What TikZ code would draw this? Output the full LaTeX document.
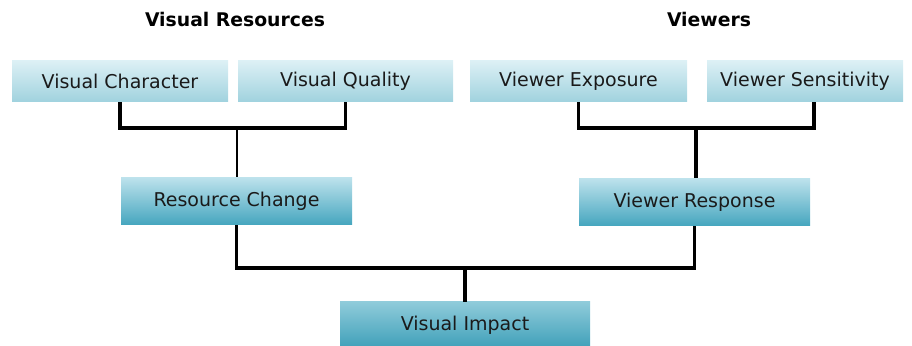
\documentclass[tikz,border=0pt]{standalone}
\usepackage{fontspec}
\setmainfont{DejaVu Sans}
\usepackage{xcolor}
\usetikzlibrary{calc, positioning}

\definecolor{paletop}{HTML}{DCF0F5}
\definecolor{palebot}{HTML}{A0D2DE}
\definecolor{midtop}{HTML}{BDE2EC}
\definecolor{midbot}{HTML}{46A6BF}
\definecolor{lowtop}{HTML}{8FCBDA}
\definecolor{lowbot}{HTML}{3FA0B9}
\definecolor{boxtext}{HTML}{1A1A1A}

\tikzstyle{heading} = [font=\fontsize{9.4}{11}\selectfont\bfseries, text=black, inner sep=0pt]
\tikzstyle{factor} = [rectangle, inner sep=0pt, text=boxtext,
  font=\fontsize{9.5}{11}\selectfont, minimum height=20.5pt]
\tikzstyle{toptier} = [factor, top color=paletop, bottom color=palebot]
\tikzstyle{midtier} = [factor, top color=midtop, bottom color=midbot, minimum height=23.5pt]
\tikzstyle{lowtier} = [factor, top color=lowtop, bottom color=lowbot, minimum height=23pt]
\tikzstyle{bar} = [draw=black, line width=1.6pt]

\begin{document}
\begin{tikzpicture}[x=0.5pt, y=-0.5pt]
    \useasboundingbox (0,0) rectangle (912,346);

    % group titles
    \node[heading] (hres) at (235,19) {Visual Resources};
    \node[heading] (hview) at (709,19) {Viewers};

    % first row
    \node[toptier, minimum width=108pt] (vchar) at (120,81.5) {Visual Character};
    \node[toptier, minimum width=107.5pt] (vqual) at (345.5,81.5) {Visual Quality};
    \node[toptier, minimum width=108.5pt] (vexpo) at (578.5,81.5) {Viewer Exposure};
    \node[toptier, minimum width=98pt] (vsens) at (805,81.5) {Viewer Sensitivity};

    % second row
    \node[midtier, minimum width=115.5pt] (reschange) at (236.5,201) {Resource Change};
    \node[midtier, minimum width=115.5pt] (viewresp) at (694.5,202) {Viewer Response};

    % result
    \node[lowtier, minimum width=125pt] (vimpact) at (465,325) {Visual Impact};

    % joints of the brackets
    \coordinate (jres) at (237,128);
    \coordinate (jview) at (696,128);
    \coordinate (jimp) at (465,268);

    \draw[bar] (vchar.south) |- (jres) -| (vqual.south);
    \draw[bar, line width=1.1pt] (jres) -- (jres |- reschange.north);
    \draw[bar] (vexpo.south) |- (jview) -| ($(vsens.south)+(9,0)$);
    \draw[bar] (jview) -- (jview |- viewresp.north);
    \draw[bar] (reschange.south) |- (jimp) -| (viewresp.south);
    \draw[bar] (jimp) -- (vimpact.north);
\end{tikzpicture}
\end{document}
